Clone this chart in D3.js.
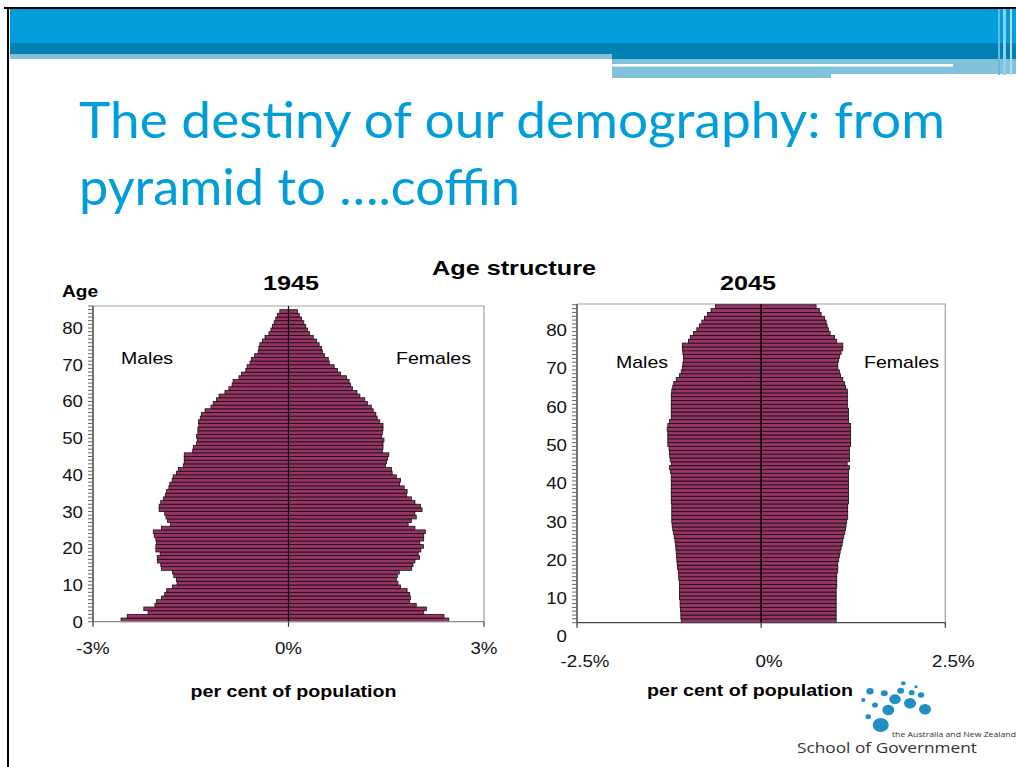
<!DOCTYPE html>
<html>
<head>
<meta charset="utf-8">
<script src="https://cdn.jsdelivr.net/npm/d3@7"></script>
<style>
  html, body { margin: 0; padding: 0; background: #fff; }
  svg { display: block; font-family: "Liberation Sans", Arial, sans-serif; }
</style>
</head>
<body>
<svg id="chart" width="1016" height="767"></svg>
<script>
// ---------------- DATA ----------------
const titleLines = ["The destiny of our demography:  from", "pyramid to \u2026.coffin"];
const ages1945 = [0,1,2,3,4,5,6,7,8,9,10,11,12,13,14,15,16,17,18,19,20,21,22,23,24,25,26,27,28,29,30,31,32,33,34,35,36,37,38,39,40,41,42,43,44,45,46,47,48,49,50,51,52,53,54,55,56,57,58,59,60,61,62,63,64,65,66,67,68,69,70,71,72,73,74,75,76,77,78,79,80,81,82,83,84];
const males1945 = [2.57,2.475,2.155,2.22,2.05,2.025,1.95,1.90,1.87,1.78,
  1.71,1.72,1.76,1.78,1.95,1.96,2.01,2.015,1.97,2.035,
  2.035,2.025,2.035,2.06,2.075,1.95,1.81,1.855,1.88,1.90,
  1.985,1.985,1.96,1.92,1.89,1.87,1.835,1.82,1.785,1.77,
  1.72,1.69,1.615,1.60,1.60,1.60,1.47,1.46,1.41,1.40,
  1.41,1.39,1.39,1.375,1.38,1.355,1.335,1.28,1.19,1.155,
  1.105,1.065,0.975,0.915,0.865,0.85,0.76,0.72,0.655,0.635,
  0.59,0.57,0.52,0.465,0.455,0.44,0.40,0.36,0.30,0.27,
  0.245,0.22,0.195,0.17,0.133];
const females1945 = [2.46,2.385,2.075,2.115,1.96,1.86,1.87,1.86,1.82,1.72,
  1.68,1.655,1.67,1.70,1.89,1.91,1.94,2.01,1.99,2.03,
  2.07,2.015,2.075,2.075,2.10,1.94,1.835,1.885,1.96,1.94,
  2.05,2.025,1.94,1.885,1.81,1.82,1.775,1.705,1.72,1.655,
  1.59,1.58,1.49,1.505,1.52,1.54,1.44,1.45,1.45,1.465,
  1.43,1.44,1.45,1.45,1.40,1.36,1.34,1.30,1.27,1.21,
  1.17,1.095,1.05,0.98,0.95,0.93,0.89,0.80,0.75,0.70,
  0.625,0.61,0.555,0.52,0.505,0.47,0.43,0.38,0.325,0.29,
  0.265,0.235,0.20,0.165,0.138];
const ages2045 = [4,5,6,7,8,9,10,11,12,13,14,15,16,17,18,19,20,21,22,23,24,25,26,27,28,29,30,31,32,33,34,35,36,37,38,39,40,41,42,43,44,45,46,47,48,49,50,51,52,53,54,55,56,57,58,59,60,61,62,63,64,65,66,67,68,69,70,71,72,73,74,75,76,77,78,79,80,81,82,83,84,85,86];
const males2045 = [1.085,1.09,1.09,1.095,1.10,1.10,
  1.108,1.108,1.108,1.108,1.108,1.118,1.12,1.126,1.136,1.14,
  1.145,1.148,1.153,1.158,1.163,1.17,1.18,1.19,1.20,1.208,
  1.213,1.213,1.213,1.213,1.213,1.22,1.22,1.22,1.22,1.22,
  1.22,1.22,1.22,1.23,1.244,1.22,1.235,1.24,1.245,1.25,
  1.267,1.267,1.267,1.267,1.276,1.267,1.244,1.22,1.22,1.22,
  1.22,1.22,1.22,1.22,1.213,1.20,1.186,1.153,1.108,1.085,
  1.07,1.063,1.054,1.054,1.063,1.07,1.07,0.986,0.963,0.918,
  0.873,0.837,0.805,0.77,0.73,0.68,0.62];
const females2045 = [1.018,1.018,1.018,1.018,1.018,1.018,
  1.018,1.018,1.018,1.026,1.026,1.026,1.026,1.04,1.04,1.04,
  1.053,1.062,1.072,1.085,1.099,1.108,1.121,1.135,1.144,1.153,
  1.162,1.175,1.175,1.175,1.175,1.185,1.185,1.185,1.185,1.185,
  1.185,1.185,1.185,1.185,1.198,1.167,1.198,1.198,1.198,1.198,
  1.215,1.215,1.215,1.215,1.215,1.215,1.185,1.185,1.185,1.185,
  1.17,1.17,1.17,1.17,1.17,1.144,1.13,1.108,1.076,1.062,
  1.04,1.04,1.049,1.062,1.085,1.108,1.108,1.026,0.995,0.936,
  0.913,0.895,0.882,0.859,0.814,0.79,0.746];
const yTickLabels = [0,10,20,30,40,50,60,70,80];
const xTicks1945 = [-3,0,3];
const xTicks2045 = [-2.5,0,2.5];

// ---------------- DRAW ----------------
const svg = d3.select("#chart");
const BAR = "#993366";
const STRETCH = 1.1;

function stretchText(sel, k) {
  sel.each(function () {
    const len = this.getComputedTextLength();
    d3.select(this).attr("textLength", len * k).attr("lengthAdjust", "spacingAndGlyphs");
  });
}
function fitText(sel, w) {
  sel.attr("textLength", w).attr("lengthAdjust", "spacingAndGlyphs");
}

// --- slide frame / banner ---
svg.append("rect").attr("x", 4).attr("y", 7).attr("width", 1012).attr("height", 2).attr("fill", "#000");
svg.append("rect").attr("x", 7).attr("y", 7).attr("width", 2).attr("height", 760).attr("fill", "#000");
svg.append("rect").attr("x", 10).attr("y", 9).attr("width", 1006).attr("height", 34).attr("fill", "#009fdb");
svg.append("rect").attr("x", 10).attr("y", 43).attr("width", 1006).attr("height", 16).attr("fill", "#0080b3");
svg.append("rect").attr("x", 10).attr("y", 54).attr("width", 602).attr("height", 5).attr("fill", "#82c1da");
svg.append("rect").attr("x", 612).attr("y", 59).attr("width", 404).attr("height", 15).attr("fill", "#82c1da");
svg.append("rect").attr("x", 612).attr("y", 64).attr("width", 341).attr("height", 2.5).attr("fill", "#ffffff");
svg.append("rect").attr("x", 612).attr("y", 74).attr("width", 219).attr("height", 4).attr("fill", "#82c1da");
svg.append("rect").attr("x", 998).attr("y", 9).attr("width", 2).attr("height", 66).attr("fill", "#5cbde6");
svg.append("rect").attr("x", 1003).attr("y", 9).attr("width", 3).attr("height", 66).attr("fill", "#8fd0ee");
svg.append("rect").attr("x", 1010).attr("y", 9).attr("width", 2).attr("height", 66).attr("fill", "#b5def2");

// --- title ---
const titleFont = "Lato, 'Open Sans', sans-serif";
svg.append("text").attr("x", 79).attr("y", 138).attr("fill", "#009ddb")
  .style("font-family", titleFont).style("font-size", "50px")
  .text(titleLines[0]).call(fitText, 866);
svg.append("text").attr("x", 79).attr("y", 205).attr("fill", "#009ddb")
  .style("font-family", titleFont).style("font-size", "50px")
  .text(titleLines[1]).call(fitText, 441);

// --- headings ---
svg.append("text").attr("x", 514).attr("y", 275).attr("text-anchor", "middle")
  .style("font-weight", "bold").style("font-size", "21px").text("Age structure").call(fitText, 164);

// ---------- generic pyramid ----------
function pyramid(cfg) {
  const g = svg.append("g");
  const x = d3.scaleLinear().domain(cfg.xDomain).range(cfg.xRange);
  const y = d3.scaleLinear().domain(cfg.yDomain).range(cfg.yRange);
  const [L, R] = cfg.xRange, [B, T] = cfg.yRange;

  // plot border (top and right)
  g.append("path").attr("d", `M${L},${T}H${R}V${B}`).attr("fill", "none")
    .attr("stroke", "#a0a0a0").attr("stroke-width", 1.2);

  const rows = cfg.ages.map((a, i) => ({ a, m: cfg.males[i], f: cfg.females[i] }));
  const y0 = d => y(d.a + cfg.barLo), y1 = d => y(d.a + cfg.barLo + 1);
  // males
  g.selectAll(".m").data(rows).join("rect")
    .attr("x", d => x(-d.m)).attr("width", d => x(0) - x(-d.m))
    .attr("y", y1).attr("height", d => y0(d) - y1(d))
    .attr("fill", BAR).attr("stroke", "#111").attr("stroke-width", 0.8);
  // females
  g.selectAll(".f").data(rows).join("rect")
    .attr("x", x(0)).attr("width", d => x(d.f) - x(0))
    .attr("y", y1).attr("height", d => y0(d) - y1(d))
    .attr("fill", BAR).attr("stroke", "#111").attr("stroke-width", 0.8);

  // centre line
  g.append("line").attr("x1", x(0)).attr("x2", x(0)).attr("y1", T).attr("y2", B)
    .attr("stroke", "#000").attr("stroke-width", 1.2);

  // x axis
  g.append("line").attr("x1", L).attr("x2", R).attr("y1", B).attr("y2", B)
    .attr("stroke", cfg.xAxisColor).attr("stroke-width", 1.3);
  g.selectAll(".xt").data(cfg.xTicks).join("line")
    .attr("x1", d => x(d)).attr("x2", d => x(d)).attr("y1", B).attr("y2", B + 5)
    .attr("stroke", "#333").attr("stroke-width", 1.2);
  g.selectAll(".xl").data(cfg.xTicks).join("text")
    .attr("x", d => x(d) + cfg.xLabelDx).attr("y", cfg.xLabelY)
    .attr("text-anchor", "middle").style("font-size", "17px").attr("fill", "#111")
    .text(d => d + "%").call(stretchText, STRETCH);

  // y axis
  g.append("line").attr("x1", L).attr("x2", L).attr("y1", T).attr("y2", B)
    .attr("stroke", "#444").attr("stroke-width", 1.5);
  g.selectAll(".yt").data(cfg.yMinor).join("line")
    .attr("x1", L - 5).attr("x2", L).attr("y1", d => y(d)).attr("y2", d => y(d))
    .attr("stroke", "#666").attr("stroke-width", 1);
  g.selectAll(".yl").data(yTickLabels).join("text")
    .attr("x", cfg.yLabelX).attr("y", d => y(d) + 6)
    .attr("text-anchor", "end").style("font-size", "17px").attr("fill", "#111")
    .text(d => d).call(stretchText, STRETCH);

  // labels
  g.append("text").attr("x", cfg.yearX).attr("y", 290).attr("text-anchor", "middle")
    .style("font-weight", "bold").style("font-size", "21px").text(cfg.year).call(fitText, 56);
  g.append("text").attr("x", cfg.malesX).attr("y", cfg.sexY).style("font-size", "17px")
    .text("Males").call(fitText, 52);
  g.append("text").attr("x", cfg.femalesX).attr("y", cfg.sexY).style("font-size", "17px")
    .text("Females").call(fitText, 75);
  g.append("text").attr("x", cfg.pcX).attr("y", cfg.pcY).attr("text-anchor", "middle")
    .style("font-weight", "bold").style("font-size", "16px").text("per cent of population")
    .call(fitText, 206);
  return g;
}

pyramid({
  year: "1945", ages: ages1945, males: males1945, females: females1945,
  xDomain: [-3, 3], xRange: [93, 484], yDomain: [0, 86], yRange: [621.7, 306],
  barLo: 0, xTicks: xTicks1945, xLabelY: 654, xLabelDx: 0, xAxisColor: "#8a8a8a",
  yMinor: d3.range(0, 87), yLabelX: 83,
  yearX: 291, malesX: 121, femalesX: 396, sexY: 364, pcX: 293.5, pcY: 697
});
pyramid({
  year: "2045", ages: ages2045, males: males2045, females: females2045,
  xDomain: [-2.5, 2.5], xRange: [577, 945.3], yDomain: [3.6, 86.8], yRange: [622.7, 304],
  barLo: -0.4, xTicks: xTicks2045, xLabelY: 666.5, xLabelDx: 8, xAxisColor: "#444",
  yMinor: d3.range(3.6, 86.9, 1), yLabelX: 567,
  yearX: 748, malesX: 616, femalesX: 864, sexY: 368, pcX: 750, pcY: 696
});

// "Age" label
svg.append("text").attr("x", 62).attr("y", 297).style("font-weight", "bold")
  .style("font-size", "16px").text("Age").call(fitText, 36);

// --- logo ---
const dots = [
  [903.3,683.3,2],[916,686.7,1.5],[900.7,690.7,3],[911.7,692.7,2.6],[921,695,2.8],
  [884.3,693.3,3],[870,691.3,3.2],[895,699.3,5],[910,703.3,5.2],[925,709.3,5.2],
  [863.3,700,1.9],[875,705,2.6],[888.3,710,5.2],[868.3,716.7,2.4],[880.7,725,7]
];
svg.append("g").selectAll("ellipse").data(dots).join("ellipse")
  .attr("cx", d => d[0]).attr("cy", d => d[1]).attr("rx", d => d[2] * 1.15).attr("ry", d => d[2])
  .attr("fill", "#1f8fc4");
svg.append("text").attr("x", 892).attr("y", 737).style("font-family", "'Open Sans', sans-serif")
  .style("font-size", "8px").attr("fill", "#333").text("the Australia and New Zealand").call(fitText, 124);
svg.append("text").attr("x", 797).attr("y", 753).style("font-family", "'Open Sans', sans-serif")
  .style("font-size", "15px").attr("fill", "#333").text("School of Government").call(fitText, 180);
</script>
</body>
</html>
